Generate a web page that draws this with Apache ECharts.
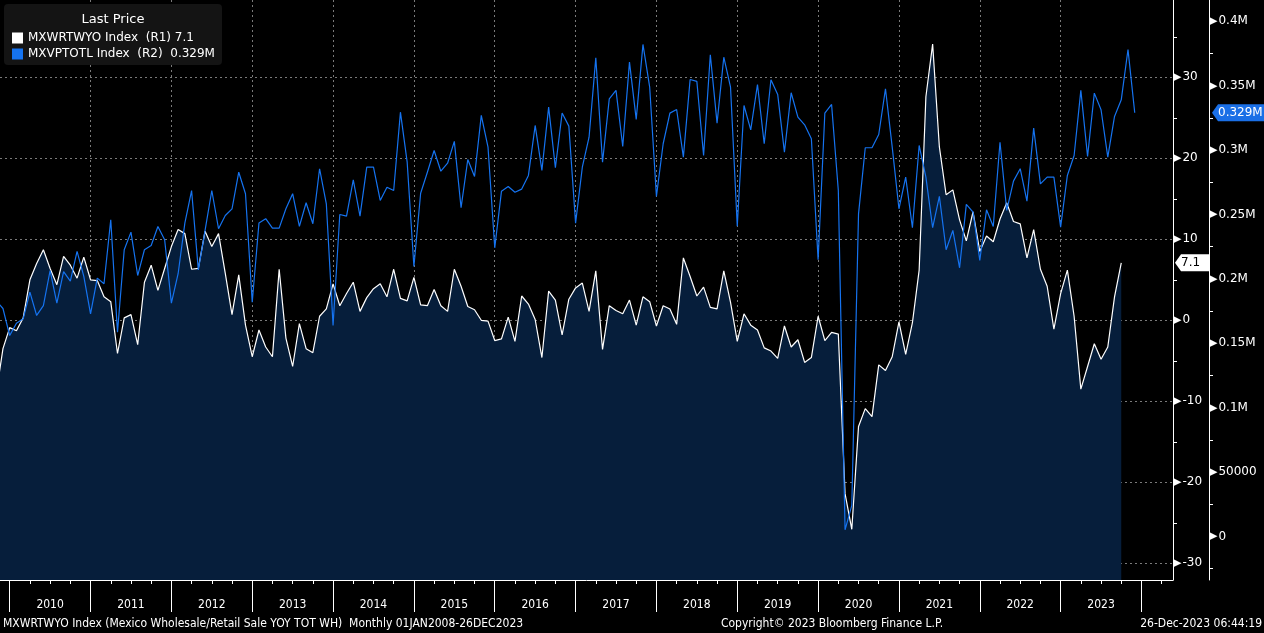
<!DOCTYPE html>
<html><head><meta charset="utf-8">
<script src="https://cdn.jsdelivr.net/npm/echarts@6/dist/echarts.min.js"></script>
<style>html,body{margin:0;padding:0;background:#000;}#c{width:1264px;height:633px;}</style>
</head><body><div id="c"></div>
<script>
// ---- data ----
const seriesNames = ['MXWRTWYO Index', 'MXVPTOTL Index'];
const axisTags = ['(R1)', '(R2)'];
const firstMonth = [2009, 10];           // first observation (month end)
// Mexico Wholesale/Retail Sale YoY (R1), 2009-10 .. 2023-09
const retailYoY = [
  -9.0, -3.5, -0.9, -1.3, 0.3, 5.0, 7.0, 8.7, 6.4, 4.4, 7.9, 6.8,
  5.2, 7.8, 5.0, 4.9, 2.9, 2.3, -4.1, 0.3, 0.7, -3.0, 4.7, 6.8,
  3.7, 6.4, 9.1, 11.2, 10.7, 6.3, 6.4, 11.0, 9.1, 10.7, 5.8, 0.7,
  5.6, -0.6, -4.5, -1.2, -3.3, -4.5, 6.3, -2.2, -5.7, -0.4, -3.5, -4.0,
  0.5, 1.4, 4.5, 1.8, 3.3, 4.7, 1.1, 2.8, 3.9, 4.5, 2.9, 6.3,
  2.7, 2.4, 5.3, 1.9, 1.8, 3.8, 1.8, 1.1, 6.3, 4.2, 1.7, 1.3,
  0.0, -0.1, -2.5, -2.3, 0.4, -2.6, 3.0, 2.0, 0.1, -4.6, 3.6, 2.5,
  -1.8, 2.6, 4.0, 4.6, 1.1, 6.1, -3.6, 1.8, 1.2, 0.8, 2.5, -0.6,
  2.9, 2.3, -0.7, 1.8, 1.4, -0.5, 7.7, 5.4, 3.0, 4.1, 1.6, 1.4,
  6.1, 2.2, -2.6, 0.8, -0.6, -1.2, -3.4, -3.8, -4.7, -0.7, -3.3, -2.4,
  -5.2, -4.6, 0.5, -2.5, -1.5, -1.7, -21.4, -25.8, -13.1, -10.9, -11.9, -5.5,
  -6.2, -4.5, -0.2, -4.2, -0.3, 6.2, 27.6, 34.1, 21.4, 15.5, 16.1, 12.4,
  9.8, 13.4, 8.5, 10.4, 9.7, 12.5, 14.5, 12.2, 11.9, 7.7, 11.2, 6.3,
  4.2, -1.1, 3.3, 6.2, 0.5, -8.5, -5.7, -2.9, -4.8, -3.3, 2.9, 7.1
];
// Mexico total vehicle production (R2), 2009-10 .. 2023-11
const vehicleProd = [
  183000, 177000, 156000, 165600, 169000, 189700, 171600, 179300, 206500, 181200, 205700, 198200,
  221300, 201900, 172900, 200600, 196200, 245900, 158600, 222600, 236300, 202600, 222600, 225900,
  240700, 230400, 181200, 204000, 243300, 268600, 207000, 237600, 268600, 238900, 249200, 254400,
  282800, 266100, 181900, 243300, 246700, 239400, 239400, 254400, 266100, 240700, 259100, 242800,
  285500, 258300, 163800, 250000, 248700, 276900, 248700, 286700, 286700, 260900, 271200, 268600,
  329400, 290600, 209600, 266500, 282800, 299700, 283600, 289800, 306700, 255200, 292700, 279500,
  326900, 302300, 224100, 268100, 271700, 267300, 269700, 280300, 319100, 284200, 333300, 286300,
  328700, 318600, 243300, 286700, 310000, 371600, 290600, 339800, 346300, 302800, 368300, 323800,
  382000, 348800, 264000, 304900, 328700, 331500, 294500, 354800, 353300, 295800, 374000, 320900,
  372100, 348800, 240900, 334600, 315700, 350900, 304900, 354600, 343200, 298400, 344500, 325600,
  319600, 308800, 214800, 328700, 335400, 268600, 5200, 24100, 250500, 301800, 301800, 312100,
  347600, 302300, 254400, 279000, 239700, 303600, 279000, 239700, 264000, 222600, 237600, 208600,
  257800, 251800, 214300, 253600, 240700, 306100, 253100, 275900, 285500, 260300, 317000, 273800,
  279000, 279000, 240200, 280300, 295800, 346300, 295000, 344200, 331300, 294500, 326100, 339000,
  378100, 329000
];
const yearTicks = [2010, 2011, 2012, 2013, 2014, 2015, 2016, 2017, 2018, 2019, 2020, 2021, 2022, 2023, 2024];
const yearLabels = [2010, 2011, 2012, 2013, 2014, 2015, 2016, 2017, 2018, 2019, 2020, 2021, 2022, 2023];
const footerLeft = 'MXWRTWYO Index (Mexico Wholesale/Retail Sale YOY TOT WH)  Monthly 01JAN2008-26DEC2023';
const footerMid = 'Copyright\u00A9 2023 Bloomberg Finance L.P.';
const footerRight = '26-Dec-2023 06:44:19';

// month-end position on a fractional-year axis
function monthPos(i) {
  const m = firstMonth[1] + i;
  return firstMonth[0] + m / 12;
}
const whiteData = retailYoY.map((v, i) => [monthPos(i), v]);
const blueData = vehicleProd.map((v, i) => [monthPos(i), v]);
const lastWhite = retailYoY[retailYoY.length - 1];
const lastBlue = vehicleProd[vehicleProd.length - 1];
const fmtM = v => v >= 100000 ? (+(v / 1e6).toFixed(3)) + 'M' : String(v);

const FONT = 'DejaVu Sans';
const CFONT = 'DejaVu Sans Condensed';
const GRID = { left: 0, right: 91, top: 0, bottom: 53 };
const WHITE = '#ffffff', BLUE = '#1573f0', FILL = '#061e3b', GRIDC = '#7a7a7a';

const chart = echarts.init(document.getElementById('c'), null, { renderer: 'canvas' });
const triRich = { t: { fontSize: 11, color: '#fff', fontFamily: FONT, verticalAlign: 'middle', padding: [0, 1, 0, 0] },
                  v: { fontSize: 12, color: '#fff', fontFamily: FONT, verticalAlign: 'middle' } };

chart.setOption({
  backgroundColor: '#000',
  animation: false,
  grid: GRID,
  legend: {
    orient: 'vertical', left: 7, top: 27, itemWidth: 11, itemHeight: 11, itemGap: 4, icon: 'rect',
    selectedMode: false, z: 10,
    textStyle: { color: '#fff', fontFamily: FONT, fontSize: 12 },
    formatter: name => {
      const i = seriesNames.indexOf(name);
      return name + '  ' + axisTags[i] + (i === 0 ? ' ' + lastWhite : '  ' + fmtM(lastBlue));
    }
  },
  xAxis: [{
    type: 'value', min: 2009.88, max: 2024.39, minInterval: 1, maxInterval: 1,
    axisLine: { show: true, onZero: false, lineStyle: { color: '#fff', width: 1 } },
    axisTick: { show: true, length: 32, customValues: yearTicks, lineStyle: { color: '#fff' } },
    minorTick: { show: true, splitNumber: 4, length: 4, lineStyle: { color: '#fff' } },
    axisLabel: {
      show: true, customValues: yearLabels.map(y => y + 0.5), formatter: v => String(Math.floor(v)),
      color: '#fff', fontFamily: CFONT, fontSize: 12, margin: 19
    },
    splitLine: { show: true, showMinLine: false, showMaxLine: false, lineStyle: { color: GRIDC, type: [2, 3], width: 1 } }
  }],
  yAxis: [{
    type: 'value', position: 'right', min: -32.06, max: 39.54, minInterval: 10, maxInterval: 10, splitNumber: 7,
    axisLine: { show: true, onZero: false, lineStyle: { color: '#fff' } },
    axisTick: { show: false },
    minorTick: { show: true, splitNumber: 2, length: 4, lineStyle: { color: '#fff' } },
    axisLabel: { showMinLabel: false, showMaxLabel: false, margin: 0, formatter: v => '{t|\u25B6}{v|' + v + '}', rich: triRich },
    splitLine: { show: true, showMinLine: false, showMaxLine: false, lineStyle: { color: GRIDC, type: [2, 3], width: 1 } }
  }, {
    type: 'value', position: 'right', offset: 36, min: -33770, max: 416500, minInterval: 50000, maxInterval: 50000, splitNumber: 9,
    axisLine: { show: true, onZero: false, lineStyle: { color: '#fff' } },
    axisTick: { show: false },
    minorTick: { show: true, splitNumber: 2, length: 4, lineStyle: { color: '#fff' } },
    axisLabel: { showMinLabel: false, showMaxLabel: false, margin: 0, formatter: v => '{t|\u25B6}{v|' + fmtM(v) + '}', rich: triRich },
    splitLine: { show: false }
  }],
  series: [{
    name: seriesNames[0], type: 'line', xAxisIndex: 0, yAxisIndex: 0, data: whiteData,
    showSymbol: false, symbol: 'none', z: 2,
    itemStyle: { color: WHITE }, lineStyle: { color: WHITE, width: 1.2 },
    areaStyle: { color: FILL, opacity: 1, origin: 'start' }
  }, {
    name: seriesNames[1], type: 'line', xAxisIndex: 0, yAxisIndex: 1, data: blueData,
    showSymbol: false, symbol: 'none', z: 3,
    itemStyle: { color: BLUE }, lineStyle: { color: BLUE, width: 1.2 }
  }]
});

// last-value badges and frame texts
const xr = chart.convertToPixel({ xAxisIndex: 0 }, 2024.39);
const yW = chart.convertToPixel({ yAxisIndex: 0 }, lastWhite);
const yB = chart.convertToPixel({ yAxisIndex: 1 }, lastBlue);
function badge(x0, x1, y, fill, textColor, text) {
  return {
    type: 'group', z: 20, children: [
      { type: 'polygon', shape: { points: [[x0, y], [x0 + 6, y - 8.5], [x1, y - 8.5], [x1, y + 8.5], [x0 + 6, y + 8.5]] }, style: { fill: fill } },
      { type: 'text', x: x0 + 6, y: y, style: { text: text, fill: textColor, font: '12px "' + FONT + '"', verticalAlign: 'middle', align: 'left' } }
    ]
  };
}
chart.setOption({
  graphic: [
    { type: 'rect', z: 1, shape: { x: 4, y: 4, width: 218, height: 61, r: 4 }, style: { fill: '#141414' } },
    { type: 'text', z: 11, x: 113, y: 20, style: { text: 'Last Price', fill: '#fff', font: '13px "' + FONT + '"', align: 'center', verticalAlign: 'middle' } },
    badge(xr + 2, xr + 36, yW, '#ffffff', '#000000', String(lastWhite)),
    badge(xr + 39, 1264, yB, '#1a6fe6', '#ffffff', fmtM(lastBlue)),
    { type: 'text', z: 11, x: 3, y: 624, style: { text: footerLeft, fill: '#fff', font: '12px "' + CFONT + '"', verticalAlign: 'middle' } },
    { type: 'text', z: 11, x: 832, y: 624, style: { text: footerMid, fill: '#fff', font: '12px "' + CFONT + '"', align: 'center', verticalAlign: 'middle' } },
    { type: 'text', z: 11, x: 1262, y: 624, style: { text: footerRight, fill: '#fff', font: '12px "' + CFONT + '"', align: 'right', verticalAlign: 'middle' } }
  ]
});
</script>
</body></html>
